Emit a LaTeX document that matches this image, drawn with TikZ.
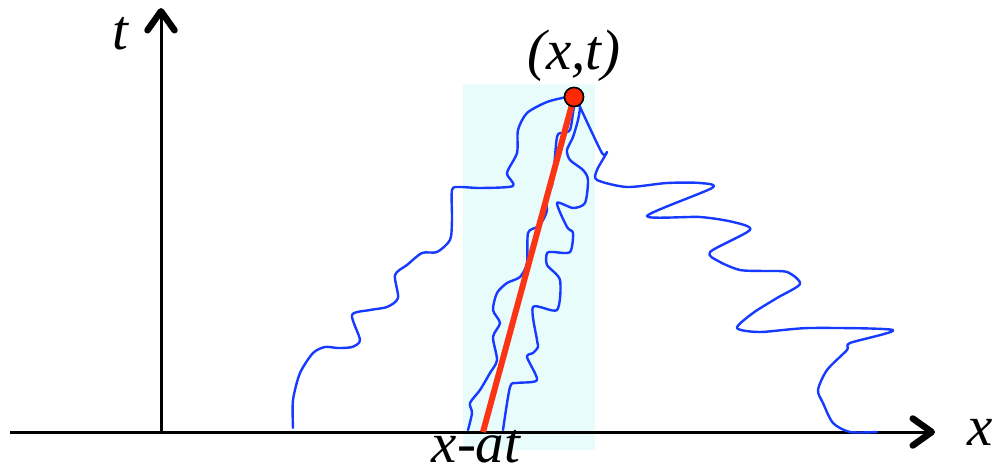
\documentclass[tikz,border=0pt]{standalone}
\usepackage{fontspec}
\setmainfont{Liberation Serif}
\usetikzlibrary{arrows.meta}
\definecolor{boxcyan}{RGB}{232,252,252}
\definecolor{pathblue}{RGB}{22,58,255}
\definecolor{segred}{RGB}{250,52,20}
\definecolor{dotred}{RGB}{255,40,0}
\tikzset{
  axis/.style={line width=3pt, -{Straight Barb[length=19pt,width=27pt,line width=6.5pt,round]}},
  walk/.style={pathblue, line width=2.4pt, line join=round, line cap=round},
  seg/.style={segred, line width=6pt},
  lbl/.style={font=\fontsize{57}{60}\selectfont\itshape, inner sep=0pt},
}
\begin{document}
\begin{tikzpicture}[x=1pt,y=-1pt]
\useasboundingbox (0,0) rectangle (994,468);
\fill[boxcyan] (463,84) rectangle (595,450);
\coordinate (O) at (161,432);
\coordinate (xs) at (10,432);
\coordinate (xe) at (935,432);
\coordinate (te) at (161,8);
\draw[axis] (xs) -- (xe);
\draw[axis] (O) -- (te);
\node[lbl, anchor=base] (tl) at (120,50) {t};
\node[lbl, anchor=base west] (xl) at (967,445) {x};
\node[lbl, anchor=base] (xat) at (476,462) {x-at};
\node[lbl, anchor=base] (xt) at (574,70) {(x,t)};
% left outer walk
\draw[walk] plot[smooth, tension=0.45] coordinates {(293,428) (293,400) (300,373) (313,353) (325,347) (338,348) (352,347) (360,340) (352,315) (370,310) (387,307) (398,298) (395,275) (407,265) (422,253) (437,252) (450,240) (452,220) (452,190) (460,187) (480,188) (513,186) (507,173) (517,153) (518,130) (527,113) (547,102) (567,97) (574,97)};
% right outer walk
\draw[walk] plot[smooth, tension=0.45] coordinates {(575,97) (580,107) (602,153) (607,152) (597,170) (597,180) (627,187) (667,183) (700,183) (712,188) (647,216) (700,217) (733,222) (750,230) (710,252) (720,262) (740,270) (763,271) (787,272) (800,284) (777,298) (753,313) (737,328) (760,332) (810,328) (893,330) (850,343) (847,350) (827,370) (818,390) (823,403) (833,423) (850,432) (877,432)};
% inner left walk
\draw[walk] plot[smooth, tension=0.45] coordinates {(468,430) (472,413) (470,403) (480,390) (490,373) (497,360) (493,337) (500,323) (493,310) (497,293) (507,283) (520,277) (527,263) (528,233) (537,227) (543,220) (547,210) (545,198) (550,190) (553,180) (557,137) (563,133) (570,130) (573,113) (575,100)};
% inner right walk
\draw[walk] plot[smooth, tension=0.45] coordinates {(503,430) (510,387) (517,383) (537,380) (527,357) (533,353) (538,347) (537,340) (533,307) (557,310) (560,280) (547,265) (547,253) (553,252) (570,252) (573,233) (567,227) (557,203) (573,208) (585,203) (588,180) (583,170) (570,160) (567,150) (573,137) (578,120) (580,107) (577,100)};
\coordinate (foot) at (483,432);
\node[circle, draw=black, fill=dotred, line width=1.5pt, minimum size=19pt, inner sep=0pt] (P) at (574,97) {};
\draw[seg] (foot) -- (P.center);
\node[circle, draw=black, fill=dotred, line width=1.5pt, minimum size=19pt, inner sep=0pt] (P2) at (P.center) {};
\end{tikzpicture}
\end{document}
